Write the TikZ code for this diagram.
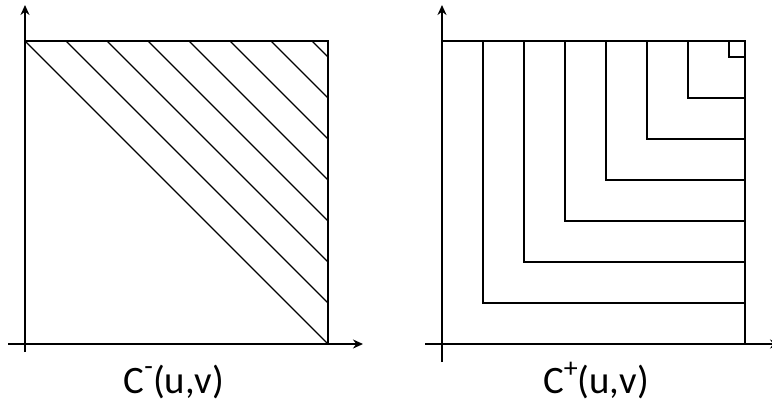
\documentclass[tikz,border=0pt]{standalone}
\usepackage{fontspec}
\setmainfont{Carlito}
\usepackage{tikz}
\usetikzlibrary{arrows.meta}
\newcommand{\supsign}[2]{{\fontsize{28}{28}\selectfont\raisebox{#1}{#2}}}

\begin{document}
\begin{tikzpicture}[x=1bp,y=-1bp,
    axis/.style={line width=2.6bp,-{Stealth[length=10bp,width=9bp]}},
    edge/.style={line width=1.4bp},
    lbl/.style={anchor=base,font=\fontsize{39}{42}\selectfont}]
    \useasboundingbox (0,0) rectangle (772,404);
    % left: C^-
    \draw[edge] (25,41) rectangle (328,344);
    \foreach \k in {0,...,7}
        \draw[edge] (25+41*\k,41) -- (328,344-41*\k);
    \draw[axis] (25,352) -- (25,5);
    \draw[axis] (8,344) -- (363,344);
    \node[lbl] (cminus) at (174,393) {C\supsign{18bp}{-}(u,v)};
    % right: C^+
    \draw[edge] (442,41) rectangle (745,344);
    \foreach \k in {1,...,7}
        \draw[edge] (442+41*\k,41) |- (745,344-41*\k);
    \draw[axis] (442,362) -- (442,5);
    \draw[axis] (425,344) -- (780,344);
    \node[lbl] (cplus) at (596,393) {C\supsign{16bp}{+}(u,v)};
\end{tikzpicture}
\end{document}
